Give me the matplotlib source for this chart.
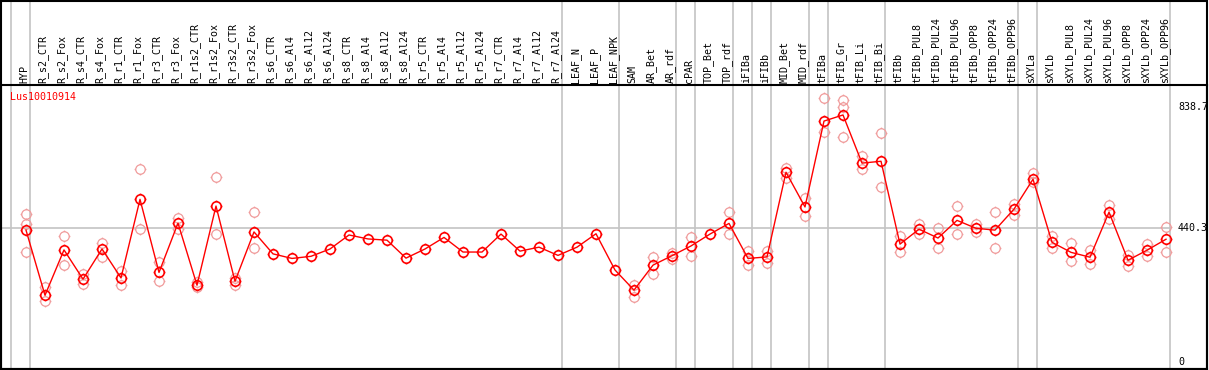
import matplotlib
matplotlib.use("Agg")
import matplotlib.pyplot as plt
from matplotlib.path import Path
from matplotlib.patches import Rectangle
import matplotlib.transforms as mtransforms

samples = ['HYP', 'R_s2_CTR', 'R_s2_Fox', 'R_s4_CTR', 'R_s4_Fox', 'R_r1_CTR', 'R_r1_Fox',
           'R_r3_CTR', 'R_r3_Fox', 'R_r1s2_CTR', 'R_r1s2_Fox', 'R_r3s2_CTR', 'R_r3s2_Fox',
           'R_s6_CTR', 'R_s6_Al4', 'R_s6_Al12', 'R_s6_Al24', 'R_s8_CTR', 'R_s8_Al4',
           'R_s8_Al12', 'R_s8_Al24', 'R_r5_CTR', 'R_r5_Al4', 'R_r5_Al12', 'R_r5_Al24',
           'R_r7_CTR', 'R_r7_Al4', 'R_r7_Al12', 'R_r7_Al24', 'LEAF_N', 'LEAF_P', 'LEAF_NPK',
           'SAM', 'AR_Bet', 'AR_rdf', 'cPAR', 'TOP_Bet', 'TOP_rdf', 'iFIBa', 'iFIBb',
           'MID_Bet', 'MID_rdf', 'tFIBa', 'tFIB_Gr', 'tFIB_Li', 'tFIB_Bi', 'tFIBb',
           'tFIBb_PUL8', 'tFIBb_PUL24', 'tFIBb_PUL96', 'tFIBb_OPP8', 'tFIBb_OPP24',
           'tFIBb_OPP96', 'sXYLa', 'sXYLb', 'sXYLb_PUL8', 'sXYLb_PUL24', 'sXYLb_PUL96',
           'sXYLb_OPP8', 'sXYLb_OPP24', 'sXYLb_OPP96']

# mean expression per sample
means = [433, 219, 368, 272, 371, 276, 534, 294, 456, 252, 512, 265, 427,
         355, 340, 347, 371, 417, 404, 400, 341, 371, 409, 361, 361,
         420, 364, 377, 350, 377, 421, 302,
         236, 318, 349, 381, 420, 455, 340, 345, 623, 509,
         791, 811, 653, 659, 387, 436, 407, 465, 439, 433, 502,
         600, 393, 360, 344, 492, 334, 367, 403]

# replicate values (empty where there are none)
reps = [[486, 453, 362], [245, 199], [413, 318], [289, 256], [391, 346], [300, 253],
        [633, 436], [327, 265], [473, 436], [262, 245], [606, 419], [276, 252], [492, 373],
        [], [], [], [], [], [], [], [], [], [], [], [], [], [], [], [], [], [], [],
        [254, 212], [346, 289], [359, 338], [411, 348], [], [492, 420], [364, 318],
        [364, 326], [638, 605], [537, 479],
        [867, 754], [860, 836, 739], [676, 635], [751, 573], [414, 360], [453, 420],
        [439, 375], [512, 421], [453, 427], [491, 373], [520, 483],
        [619, 590], [414, 373], [390, 331], [368, 321], [514, 468], [352, 314],
        [387, 349], [443, 360]]

group_starts = [0, 1, 29, 32, 35, 36, 38, 39, 40, 42, 43, 46, 53, 54, 61]
scale_marks = [838.7, 440.3, 0]

W, H = 1209, 370
fig = plt.figure(figsize=(W / 100, H / 100), dpi=100)
ax = fig.add_axes([1 / W, 1 / H, 1206 / W, 284 / H])

# circle with four short ticks, like the original markers
circ = Path.unit_circle()
ticks = [Path([(0, 1), (0, 1.25)]), Path([(0, -1), (0, -1.25)]),
         Path([(1, 0), (1.25, 0)]), Path([(-1, 0), (-1.25, 0)])]
gear = Path.make_compound_path(circ, *ticks)

x = list(range(len(samples)))
rx, ry = [], []
for i, r in enumerate(reps):
    for v in r:
        rx.append(i)
        ry.append(v)

ax.plot(rx, ry, ls='none', marker=gear, ms=8.5, mfc='none', mec='#f09c9c', mew=0.9, zorder=2)
ax.plot(x, means, color='red', lw=1, marker=gear, ms=8.5, mfc='none', mec='red', mew=1.2, zorder=3)

ax.set_xlim(-25 / 19, 60 + 41 / 19)
ax.set_ylim(-23, 909.4)

for g in group_starts:
    ax.axvline(g - 0.79, ymin=0, ymax=369 / 284, color='#c4c4c4', lw=1.2, clip_on=False, zorder=1)
ax.axhline(440.3, xmin=0, xmax=1169 / 1206, color='#c4c4c4', lw=1.2, zorder=1)

tr = mtransforms.blended_transform_factory(ax.transData, ax.transAxes)
for i, s in enumerate(samples):
    ax.text(i - 0.1, 1 + 2 / 284, s, rotation=90, ha='center', va='bottom',
            family='DejaVu Sans Mono', fontsize=7.2, transform=tr)

for v in scale_marks:
    ax.text(60 + 12 / 19, v, str(v) if v else '0', ha='left', va='center',
            family='DejaVu Sans Mono', fontsize=7.2, clip_on=False)

ax.text(9 / 1206, 0.958, 'Lus10010914', color='red', ha='left', va='center',
        family='DejaVu Sans Mono', fontsize=7.2, transform=ax.transAxes)

ax.set_xticks([])
ax.set_yticks([])
for sp in ax.spines.values():
    sp.set_linewidth(1.5)
    sp.set_color('black')
fig.patches.append(Rectangle((1 / W, 1 / H), 1206 / W, 368 / H, transform=fig.transFigure,
                             fill=False, ec='black', lw=1.5))

fig.savefig('out.png', dpi=100)
